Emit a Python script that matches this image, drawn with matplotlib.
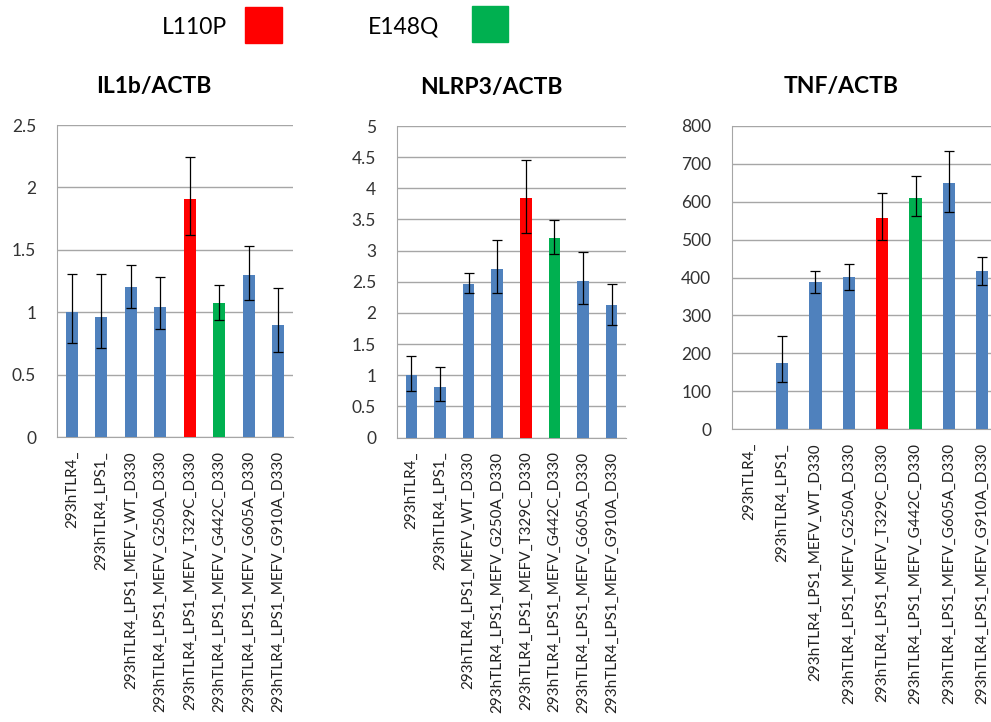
import numpy as np
import matplotlib.pyplot as plt
from matplotlib.patches import Rectangle
from matplotlib.ticker import FuncFormatter

plt.rcParams['font.family'] = ['Lato', 'DejaVu Sans']

# sample names (same for all three panels)
samples = ["293hTLR4_", "293hTLR4_LPS1_",
           "293hTLR4_LPS1_MEFV_WT_D330", "293hTLR4_LPS1_MEFV_G250A_D330",
           "293hTLR4_LPS1_MEFV_T329C_D330", "293hTLR4_LPS1_MEFV_G442C_D330",
           "293hTLR4_LPS1_MEFV_G605A_D330", "293hTLR4_LPS1_MEFV_G910A_D330"]

# IL1b/ACTB
il1b = [1.0, 0.96, 1.20, 1.045, 1.91, 1.075, 1.30, 0.90]
il1b_lo = [0.25, 0.25, 0.17, 0.18, 0.29, 0.135, 0.20, 0.22]
il1b_hi = [0.31, 0.35, 0.18, 0.24, 0.33, 0.14, 0.23, 0.29]

# NLRP3/ACTB
nlrp3 = [1.0, 0.81, 2.47, 2.71, 3.84, 3.20, 2.52, 2.12]
nlrp3_lo = [0.25, 0.22, 0.155, 0.39, 0.55, 0.26, 0.37, 0.32]
nlrp3_hi = [0.31, 0.32, 0.17, 0.46, 0.61, 0.29, 0.45, 0.35]

# TNF/ACTB
tnf = [0, 174, 387, 401, 557, 610, 649, 416]
tnf_lo = [0, 51, 28, 34, 59, 48, 76, 35]
tnf_hi = [0, 72, 31, 34, 67, 57, 84, 38]

colors = ["#4F81BD", "#4F81BD", "#4F81BD", "#4F81BD",
          "#FF0000", "#00B050", "#4F81BD", "#4F81BD"]

W, H = 991, 722
fig = plt.figure(figsize=(W / 100, H / 100), dpi=100)


def px_box(left, top, right, bottom):
    return [left / W, 1 - bottom / H, (right - left) / W, (bottom - top) / H]


panels = [
    ("IL1b/ACTB", il1b, il1b_lo, il1b_hi, 2.5, 0.5, 0.4, px_box(57, 125, 293, 437)),
    ("NLRP3/ACTB", nlrp3, nlrp3_lo, nlrp3_hi, 5, 0.5, 0.4, px_box(397, 126, 626, 437.5)),
    ("TNF/ACTB", tnf, tnf_lo, tnf_hi, 800, 100, 0.37, px_box(732, 126, 999, 429)),
]

x = np.arange(len(samples))
for title, vals, lo, hi, ymax, step, bw, box in panels:
    ax = fig.add_axes(box)
    v = np.array(vals, dtype=float)
    ax.bar(x, v, width=bw, color=colors, zorder=3)
    # no error bar where there is no bar
    m = v > 0
    ax.errorbar(x[m], v[m], yerr=[np.array(lo)[m], np.array(hi)[m]], fmt="none",
                ecolor="black", elinewidth=0.9, capsize=3.5, capthick=0.9, zorder=4)
    ax.set_xlim(-0.5, len(samples) - 0.5)
    ax.set_ylim(0, ymax)
    ax.set_yticks(np.arange(0, ymax + step / 2, step))
    ax.yaxis.set_major_formatter(FuncFormatter(lambda val, p: "%g" % val))
    ax.grid(axis="y", color="#A6A6A6", linewidth=1.0, zorder=0)
    ax.set_xticks(x)
    ax.set_xticklabels(samples, rotation=90, fontsize=11, va="top", ha="center")
    ax.tick_params(axis="y", length=0, pad=15, labelsize=12.5, labelcolor="#333333")
    ax.tick_params(axis="x", length=0, pad=10, labelcolor="#222222")
    for s in ["top", "right"]:
        ax.spines[s].set_visible(False)
    for s in ["left", "bottom"]:
        ax.spines[s].set_color("#A6A6A6")
    ax.text(0.41, 1.0 + 39 / (box[3] * H), title, transform=ax.transAxes,
            ha="center", va="center", fontsize=16.5, fontweight="bold")

# legend at top
fig.text(227 / W, 1 - 27 / H, "L110P", ha="right", va="center", fontsize=16.5)
fig.patches.append(Rectangle((245 / W, 1 - 43 / H), 37 / W, 36 / H,
                             color="#FF0000", transform=fig.transFigure, figure=fig))
fig.text(368 / W, 1 - 27 / H, "E148Q", ha="left", va="center", fontsize=16.5)
fig.patches.append(Rectangle((472 / W, 1 - 42 / H), 36 / W, 36 / H,
                             color="#00B050", transform=fig.transFigure, figure=fig))

fig.savefig("out.png", dpi=100)
